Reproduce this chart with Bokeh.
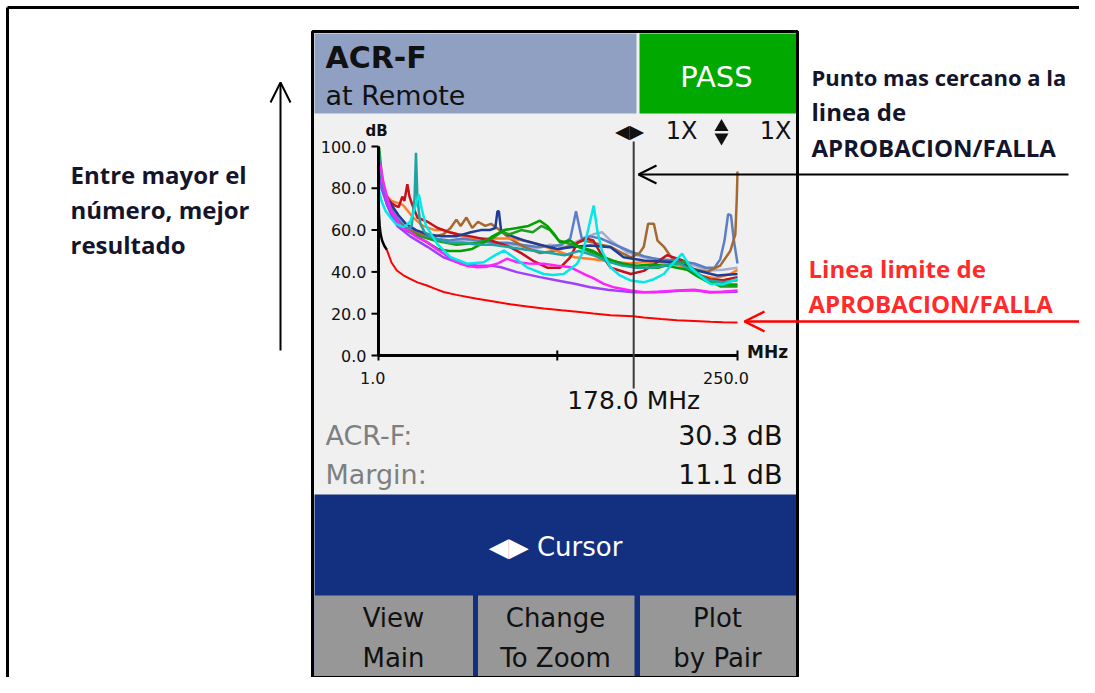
from bokeh.plotting import figure
from bokeh.models import Range1d, Arrow, OpenHead
from bokeh.core.properties import value
from bokeh.embed import file_html
from bokeh.resources import INLINE

# ---------------- data ----------------
freq_ticks = [1.0, 125.0, 250.0]
freq_tick_labels = ["1.0", "", "250.0"]
db_ticks = [0, 20, 40, 60, 80, 100]
db_tick_labels = ["0.0", "20.0", "40.0", "60.0", "80.0", "100.0"]
cursor_freq = 178.0
cursor_label = "178.0 MHz"
result_labels = ["ACR-F:", "Margin:"]
result_values = ["30.3 dB", "11.1 dB"]

limit_black_f = [1.0, 1.3, 1.8, 2.5, 3.5, 5.0, 6.8]
limit_black_db = [76, 68, 62, 58, 55, 52.5, 50.5]
limit_f = [6.8, 10, 13.7, 18, 23, 28, 34.6, 40, 46.2, 55, 69.3, 80, 92.5, 104, 115.6, 128, 138.8, 150, 162, 177.5, 185, 197, 208, 220, 231, 240, 250]
limit_db = [50.5, 44.5, 40.7, 38.5, 36.7, 35, 33.5, 32, 30.4, 29, 27.2, 26, 24.5, 23.5, 22.5, 21.6, 20.9, 20.1, 19.3, 18.8, 18.2, 17.5, 16.9, 16.5, 16.1, 15.9, 15.8]

brown_f = [1, 2, 4, 7, 10, 15, 20, 25, 30, 35, 40, 46, 51, 55, 58, 62, 66, 70, 75, 79, 85, 92, 102, 113, 123, 132, 143, 150, 155, 162, 170, 176, 182, 185, 188, 192, 194.5, 199, 204, 213, 222, 229, 238, 245, 248.5, 249.5, 250]
brown_db = [98, 90, 80, 72, 68, 63, 61, 59, 58, 58, 57, 58, 61, 65, 62, 66, 61, 64, 62, 63, 60, 56, 52, 49, 50, 52, 55, 54, 53, 52, 49, 47, 49, 52, 63, 63, 55, 52, 47, 42, 41, 40, 43, 50, 58, 75, 88]

red_f = [1, 2, 4, 7, 10, 12, 15, 17.5, 19, 21, 22.5, 24.5, 28, 35, 42, 50, 56, 65, 79, 92, 100, 109, 118, 127, 134, 139, 145, 150, 155, 162, 176, 185, 193, 201, 212, 222, 231, 240, 250]
red_db = [96, 88, 80, 75, 73, 72, 71, 76, 74, 82, 76, 72, 66, 64, 61, 59, 58, 57, 55, 52, 49, 45, 42, 42, 47, 54, 56, 55, 49, 42, 39, 40.5, 44, 48, 45.5, 39, 36.5, 36, 37.5]

orange_f = [1, 3, 6, 10, 14, 18, 25, 32, 40, 46, 51, 60, 70, 80, 92, 102, 113, 125, 137, 150, 162, 175, 190, 205, 215, 225, 235, 245, 250]
orange_db = [95, 84, 77, 74, 73, 72, 66, 62, 60, 60, 59, 57, 56, 56, 56, 55, 53, 50, 47, 46, 45, 44, 45, 44, 42, 38, 37, 39, 41]

navy_f = [1, 3, 6, 10, 15, 20, 27, 35, 45, 55, 65, 72, 78, 82, 83.5, 84.5, 86, 90, 102, 113, 125, 137, 148, 162, 171, 185, 198, 208, 222, 236, 250]
navy_db = [97, 85, 77, 72, 67, 63, 60, 58, 57, 57, 59, 60, 60, 61, 69, 69, 60, 58, 55, 53, 51, 52, 52.6, 51.8, 47, 45.5, 45, 44.6, 40.7, 38.3, 39]

green_f = [1, 1.5, 3, 5, 8, 12, 16, 20, 25, 30, 35, 42, 50, 58, 66, 74, 80, 88, 97, 105, 113, 118, 123, 127, 134, 140, 150, 160, 170, 180, 190, 200, 208, 215, 222, 230, 240, 250]
green_db = [100, 99, 88, 78, 71, 66, 63, 60, 58, 56, 54, 51, 50, 50, 51, 54, 57, 60, 61, 62, 64.5, 62, 58, 54, 55, 52, 50, 46, 44, 43, 43.5, 43, 42, 41, 38, 35, 34, 34]

green2_f = [1, 2, 4, 8, 14, 20, 30, 40, 55, 70, 80, 86, 92, 100, 108, 114, 120, 126, 136, 150, 165, 180, 195, 205, 213, 225, 238, 250]
green2_db = [98, 92, 82, 72, 64, 60, 57, 55, 53, 54, 56, 59, 58, 60, 59, 62, 60, 55, 53, 49, 45, 42, 42, 44, 45, 38, 33, 33]

steel_f = [1, 3, 6, 10, 15, 20, 30, 40, 50, 60, 70, 80, 90, 100, 110, 120, 128, 134, 136.5, 138, 139.5, 142, 148, 155, 165, 175, 185, 195, 208, 220, 228, 234, 238, 241, 243.5, 245.5, 247.5, 250]
steel_db = [95, 83, 75, 70, 65, 61, 58, 56, 55, 56, 55, 54, 54, 53, 52, 52, 53, 56, 64, 69, 64, 56, 57, 56, 53, 50, 47.5, 46, 45.4, 44, 42, 42, 46, 55, 67.6, 67, 55, 44]

light_f = [1, 3, 6, 10, 15, 20, 30, 40, 50, 60, 70, 80, 95, 110, 120, 130, 140, 150, 156, 162, 173, 185, 197, 208, 220, 231, 240, 250]
light_db = [94, 84, 76, 70, 64, 61, 58, 56, 54, 55, 55, 54, 53, 51, 53, 52, 55, 58, 59, 55, 49.5, 47, 46, 44.6, 43, 40.7, 41, 42]

teal_f = [1, 2, 4, 7, 10, 15, 20, 24, 26, 27, 28, 30, 33, 40, 50, 60, 70, 80, 90, 100, 110, 120, 130, 140, 150, 160, 170, 180, 190, 200, 210, 220, 230, 240, 250]
teal_db = [100, 92, 80, 72, 67, 63, 60, 62, 75, 97, 75, 63, 59, 56, 54, 54, 53, 53, 52, 51, 50, 49, 48, 50, 48, 45, 43, 42, 42, 43, 44, 40, 36, 35, 36]

purple_f = [1, 3, 7, 14, 23, 35, 46, 58, 70, 79, 86, 97, 113, 125, 137, 148, 160, 167, 178, 190, 200, 210, 220, 230, 240, 250]
purple_db = [86, 80, 72, 62, 57, 52, 47, 44, 43, 43, 42.2, 39.9, 37.5, 35.9, 34.3, 32.7, 31.5, 31, 30.3, 30.3, 30.5, 31, 31.2, 30.2, 30.4, 30.5]

magenta_f = [1, 2.4, 4, 7, 10, 14, 18, 23.2, 28, 34.8, 40, 46.3, 52, 57.9, 63, 69.5, 76, 83.3, 90.3, 97.2, 105, 115.6, 125, 134.2, 143.4, 150, 157.3, 165, 175.8, 185, 195, 208, 220, 231, 240, 250]
magenta_db = [92, 90.9, 84, 75.7, 69, 64.6, 61, 59, 56.5, 54.2, 51.5, 48.7, 46, 43.9, 42.8, 42.2, 42.5, 43.9, 46.3, 44.6, 44, 43.9, 43, 42.2, 39, 37, 34.3, 32.5, 31.1, 30.3, 30.5, 31.1, 31.5, 30.4, 30.5, 31.1]

cyan_f = [1, 3, 6, 9.3, 13, 18.6, 23, 26, 29, 31, 34, 41.7, 51, 62.5, 74, 82, 88, 94.8, 104, 115.6, 122, 129.5, 138.8, 143, 147, 150.3, 152.7, 156, 161.9, 168, 175.8, 185, 192, 198.9, 205, 211.6, 217.4, 224, 231, 240, 250]
cyan_db = [80, 74, 69, 66, 63, 61.4, 64, 70, 77, 70, 62, 53.4, 47, 43.9, 44.6, 48, 50.2, 47, 42.2, 39, 38.5, 39, 43.9, 50, 62, 71.8, 60, 50, 42.2, 38.5, 35.9, 35, 36.5, 39, 44, 48.7, 42.2, 38, 34.3, 34, 36.7]

pairs = [
    (light_f, light_db, "#A3AED0"),
    (steel_f, steel_db, "#5B7EC6"),
    (brown_f, brown_db, "#A5692F"),
    (orange_f, orange_db, "#FF7F27"),
    (red_f, red_db, "#C8101A"),
    (navy_f, navy_db, "#1F3C96"),
    (green2_f, green2_db, "#1E9E1E"),
    (green_f, green_db, "#00A000"),
    (teal_f, teal_db, "#1FA3A3"),
    (purple_f, purple_db, "#A040FF"),
    (magenta_f, magenta_db, "#FF22FF"),
    (cyan_f, cyan_db, "#00E8E8"),
]

# ---------------- layout (reference pixels) ----------------
W, H = 1079, 677
OX, OY = 0, 0
CX0, CX1 = 378, 737          # x pixel of 1 MHz and 250 MHz
CY0, CY1 = 355, 146          # y pixel of 0 dB and 100 dB
F0, F1 = 1.0, 250.0
D0, D1 = 0.0, 100.0

DEV = "DejaVu Sans"
ANN = "Open Sans"

p = figure(width=W, height=H, x_range=Range1d(OX, OX + W), y_range=Range1d(OY + H, OY),
           output_backend="svg", toolbar_location=None, min_border=0,
           x_axis_type=None, y_axis_type=None, outline_line_color=None,
           background_fill_color="white", border_fill_color="white")

sx = (CX1 - CX0) / (F1 - F0)
sy = (CY0 - CY1) / (D1 - D0)
p.extra_x_ranges = {"mhz": Range1d(F0 + (OX - CX0) / sx, F0 + (OX + W - CX0) / sx)}
p.extra_y_ranges = {"db": Range1d(D0 - (OY + H - CY0) / sy, D0 + (CY0 - OY) / sy)}

# page border
p.line([7, OX + W], [7, 7], line_color="black", line_width=3)
p.line([7, 7], [7, OY + H], line_color="black", line_width=3)

# device body
p.quad(left=[312], right=[797], top=[31], bottom=[677], fill_color="#F0F0F0", line_color="black", line_width=3)
p.quad(left=[314], right=[636], top=[33], bottom=[113], fill_color="#8FA0C3", line_color=None)
p.quad(left=[639], right=[795.5], top=[33], bottom=[113], fill_color="#00A800", line_color=None)
p.quad(left=[314], right=[795.5], top=[494], bottom=[675.5], fill_color="#12307F", line_color=None)
p.quad(left=[314, 477.5, 639.5], right=[472.5, 634, 795.5], top=[595, 595, 595], bottom=[675.5, 675.5, 675.5],
       fill_color="#979797", line_color=None)

# header texts
p.text(x=[325], y=[57], text=["ACR-F"], text_font=value(DEV), text_font_style="bold",
       text_font_size="30px", text_baseline="middle", text_color="#111111")
p.text(x=[325], y=[95], text=["at Remote"], text_font=value(DEV),
       text_font_size="27px", text_baseline="middle", text_color="#111111")
p.text(x=[716], y=[76], text=["PASS"], text_font=value(DEV), text_align="center",
       text_font_size="29px", text_baseline="middle", text_color="white")

# curves
for fx, dy, col in pairs:
    p.line(fx, dy, x_range_name="mhz", y_range_name="db", line_color=col, line_width=2.5)
p.line(limit_black_f, limit_black_db, x_range_name="mhz", y_range_name="db", line_color="black", line_width=2.5)
p.line(limit_f, limit_db, x_range_name="mhz", y_range_name="db", line_color="#FF0000", line_width=2)

# axes
p.line([F0, F0], [D0, D1], x_range_name="mhz", y_range_name="db", line_color="black", line_width=3)
p.line([F0, F1], [D0, D0], x_range_name="mhz", y_range_name="db", line_color="black", line_width=3)
p.segment(x0=[CX0 - 7] * len(db_ticks), x1=[CX0] * len(db_ticks), y0=db_ticks, y1=db_ticks,
          y_range_name="db", line_color="black", line_width=2)
p.segment(x0=freq_ticks, x1=freq_ticks, y0=[CY0 - 5] * 3, y1=[CY0 + 5] * 3,
          x_range_name="mhz", line_color="black", line_width=2)
p.text(x=[CX0 - 12] * len(db_ticks), y=db_ticks, text=db_tick_labels, y_range_name="db",
       text_font=value(DEV), text_font_size="16px", text_align="right", text_baseline="middle",
       text_color="#111111")
p.text(x=[freq_ticks[0] - 4, freq_ticks[2] - 8], y=[377, 377], text=[freq_tick_labels[0], freq_tick_labels[2]],
       x_range_name="mhz", text_font=value(DEV), text_font_size="16px", text_align="center",
       text_baseline="middle", text_color="#111111")
p.text(x=[376], y=[130], text=["dB"], text_font=value(DEV), text_font_style="bold", text_font_size="15px",
       text_align="center", text_baseline="middle", text_color="#111111")
p.text(x=[767], y=[351], text=["MHz"], text_font=value(DEV), text_font_style="bold", text_font_size="17px",
       text_align="center", text_baseline="middle", text_color="#111111")

# cursor
p.segment(x0=[cursor_freq], x1=[cursor_freq], y0=[141], y1=[388], x_range_name="mhz",
          line_color="#3A3A3A", line_width=2)
p.text(x=[cursor_freq], y=[400], text=[cursor_label], x_range_name="mhz", text_font=value(DEV),
       text_font_size="25px", text_align="center", text_baseline="middle", text_color="#111111")
p.text(x=[629], y=[130], text=["\u25C0\u25B6"], text_font=value(DEV),
       text_font_size="19px", text_align="center", text_baseline="middle", text_color="#111111")
p.text(x=[681, 775], y=[130, 130], text=["1X", "1X"], text_font=value(DEV),
       text_font_size="24px", text_align="center", text_baseline="middle", text_color="#111111")
p.scatter(x=[721, 721], y=[126.5, 137], marker=["triangle", "inverted_triangle"], size=14,
          fill_color="#111111", line_color=None)

# results
p.text(x=[325, 325], y=[435, 474], text=result_labels, text_font=value(DEV), text_font_size="27px",
       text_baseline="middle", text_color="#7F7F7F")
p.text(x=[782, 782], y=[435, 474], text=result_values, text_font=value(DEV), text_font_size="27px",
       text_align="right", text_baseline="middle", text_color="#111111")

# cursor band and buttons
p.text(x=[555], y=[546], text=["\u25C0\u25B6 Cursor"], text_font=value(DEV), text_font_size="26px",
       text_align="center", text_baseline="middle", text_color="white")
p.text(x=[393, 555, 717, 393, 555, 717], y=[617, 617, 617, 657, 657, 657],
       text=["View", "Change", "Plot", "Main", "To Zoom", "by Pair"], text_font=value(DEV),
       text_font_size="26px", text_align="center", text_baseline="middle", text_color="#111111")

# annotations
p.add_layout(Arrow(end=OpenHead(size=18, line_color="black", line_width=2), x_start=1068, y_start=174,
                   x_end=638, y_end=174, line_color="black", line_width=2))
p.add_layout(Arrow(end=OpenHead(size=20, line_color="#FF0000", line_width=2.5), x_start=1086, y_start=321,
                   x_end=744, y_end=321, line_color="#FF0000", line_width=2.5))
p.add_layout(Arrow(end=OpenHead(size=20, line_color="black", line_width=2), x_start=280, y_start=350,
                   x_end=280, y_end=82, line_color="black", line_width=2))

p.text(x=[70, 70, 70], y=[174, 209, 244], text=["Entre mayor el", "número, mejor", "resultado"],
       text_font=value(ANN), text_font_style="bold", text_font_size="24px", text_baseline="middle",
       text_color="#14142A")
p.text(x=[811], y=[76], text=["Punto mas cercano a la"],
       text_font=value(ANN), text_font_style="bold", text_font_size="22px", text_baseline="middle",
       text_color="#14142A")
p.text(x=[811, 811], y=[111, 147], text=["linea de", "APROBACION/FALLA"],
       text_font=value(ANN), text_font_style="bold", text_font_size="24px", text_baseline="middle",
       text_color="#14142A")
p.text(x=[808, 808], y=[268, 303], text=["Linea limite de", "APROBACION/FALLA"],
       text_font=value(ANN), text_font_style="bold", text_font_size="24px", text_baseline="middle",
       text_color="#FF2A2A")

open("out.html", "w").write(file_html(p, INLINE))
